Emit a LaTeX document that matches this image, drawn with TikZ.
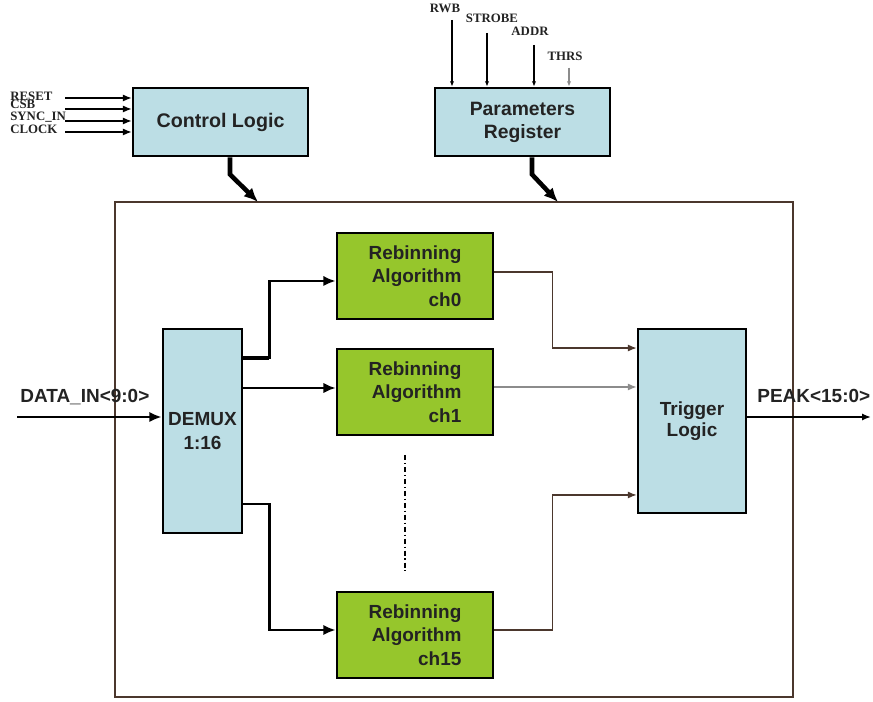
\documentclass[tikz,border=0pt]{standalone}
\usepackage{fontspec}
\setmainfont{Liberation Sans}
\newfontfamily\pinfont{Liberation Serif}
\usetikzlibrary{arrows.meta}
\definecolor{boxblue}{RGB}{188,222,229}
\definecolor{algogreen}{RGB}{150,198,44}
\definecolor{framebrown}{RGB}{75,55,45}
\definecolor{txtgray}{RGB}{35,35,35}
\definecolor{wiregray}{RGB}{140,140,140}

\tikzset{
  block/.style={draw=black, line width=1.6pt, fill=boxblue, inner sep=0pt,
    text=txtgray, align=center, font=\fontsize{10.8}{14}\selectfont\bfseries},
  algo/.style={block, fill=algogreen, minimum width=3.12cm, minimum height=1.72cm,
    align=right, font=\fontsize{10.8}{13.4}\selectfont\bfseries},
  pin/.style={font=\pinfont\fontsize{7.3}{8}\selectfont\bfseries, inner sep=0pt, text=txtgray},
  sig/.style={font=\fontsize{10.8}{12}\selectfont\bfseries, inner sep=0pt, text=txtgray},
  bus/.style={line width=1.6pt, -{Latex[length=7pt,width=6pt]}},
  wire/.style={line width=0.6pt, -{Latex[length=5pt,width=4pt]}},
  pinwire/.style={line width=0.6pt, -{Latex[length=3pt,width=2.5pt]}},
}

\begin{document}
\begin{tikzpicture}[x=0.02cm, y=-0.02cm]
    \useasboundingbox (0,0) rectangle (873,702);
    % outer frame
    \node[draw=framebrown, line width=0.8pt, minimum width=13.56cm, minimum height=9.9cm] (core) at (454,449.5) {};

    % blocks
    \node[block, minimum width=3.5cm, minimum height=1.36cm, font=\fontsize{11.2}{13}\selectfont\bfseries] (ctrl) at (220.5,122) {Control Logic};
    \node[block, minimum width=3.5cm, minimum height=1.36cm, font=\fontsize{11}{13}\selectfont\bfseries] (param) at (522.5,122) {Parameters\\Register};
    \node[block, minimum width=1.58cm, minimum height=4.08cm] (demux) at (202.5,431) {DEMUX\\1:16};
    \node[algo] (rb0) at (415,276) {Rebinning\\Algorithm\\ch0};
    \node[algo] (rb1) at (415,392) {Rebinning\\Algorithm\\ch1};
    \node[algo] (rb15) at (415,635) {Rebinning\\Algorithm\\ch15};
    \node[block, minimum width=2.16cm, minimum height=3.68cm, font=\fontsize{10.8}{12}\selectfont\bfseries] (trig) at (692,421) {Trigger\\Logic};

    % control inputs
    \node[pin, anchor=west] (rst) at (10,96) {RESET};
    \node[pin, anchor=west] (csb) at (10,104) {CSB};
    \node[pin, anchor=west] (sync) at (10,117) {SYNC\_IN};
    \node[pin, anchor=west] (clk) at (10,129) {CLOCK};
    \coordinate (rstin) at (65,98);
    \coordinate (csbin) at (65,109);
    \coordinate (syncin) at (65,121);
    \coordinate (clkin) at (65,132);
    \draw[wire] (rstin) -- (rstin -| ctrl.west);
    \draw[wire] (csbin) -- (csbin -| ctrl.west);
    \draw[wire] (syncin) -- (syncin -| ctrl.west);
    \draw[wire] (clkin) -- (clkin -| ctrl.west);

    % register inputs
    \node[pin] (rwb) at (445,8) {RWB};
    \node[pin] (strobe) at (492,18) {STROBE};
    \node[pin] (addr) at (530,31) {ADDR};
    \node[pin] (thrs) at (565,56) {THRS};
    \coordinate (rwbin) at (452,20);
    \coordinate (strobein) at (487,33);
    \coordinate (addrin) at (534,45);
    \coordinate (thrsin) at (569,68);
    \draw[pinwire] (rwbin) -- (rwbin |- param.north);
    \draw[pinwire] (strobein) -- (strobein |- param.north);
    \draw[pinwire] (addrin) -- (addrin |- param.north);
    \draw[pinwire, draw=wiregray, fill=wiregray] (thrsin) -- (thrsin |- param.north);

    % into the core
    \coordinate (ctrlhit) at (258,202);
    \coordinate (paramhit) at (558,202);
    \draw[bus, line width=2.6pt, -{Latex[length=8pt,width=7pt]}] ([xshift=0.19cm]ctrl.south) -- ++(0,17) -- (ctrlhit);
    \draw[bus, line width=2.6pt, -{Latex[length=8pt,width=7pt]}] ([xshift=0.19cm]param.south) -- ++(0,17) -- (paramhit);

    % data path
    \coordinate (datain) at (17,417);
    \node[sig, anchor=base west] (datalbl) at (20,403) {DATA\_IN<9:0>};
    \draw[bus, line width=1.4pt] (datain) -- (datain -| demux.west);

    \draw[bus] ([yshift=1.46cm]demux.east) -- ++(26,0) |- ([yshift=-0.1cm]rb0.west);
    \draw[line width=2.8pt] ([yshift=1.46cm]demux.east) -- ++(26,0);
    \coordinate (d1) at ([yshift=0.08cm]rb1.west);
    \draw[bus, line width=1.3pt] (demux.east |- d1) -- (d1);
    \draw[bus] ([yshift=-1.46cm]demux.east) -- ++(26,0) |- ([yshift=0.1cm]rb15.west);

    \draw[line width=0.8pt, dash pattern=on 3pt off 1.5pt on 0.8pt off 1.5pt] (405,455) -- (405,571);

    \draw[wire, draw=framebrown] ([yshift=0.08cm]rb0.east) -- ++(58,0) |- ([yshift=1.46cm]trig.west);
    \coordinate (r1) at ([yshift=0.1cm]rb1.east);
    \draw[wire, draw=wiregray] (r1) -- (r1 -| trig.west);
    \draw[wire, draw=framebrown] ([yshift=0.1cm]rb15.east) -- ++(58,0) |- ([yshift=-1.48cm]trig.west);

    % output
    \coordinate (peakout) at (871,417);
    \node[sig, anchor=base west] (peaklbl) at (757,403) {PEAK<15:0>};
    \draw[wire, line width=1pt] (peakout -| trig.east) -- (peakout);
\end{tikzpicture}
\end{document}
